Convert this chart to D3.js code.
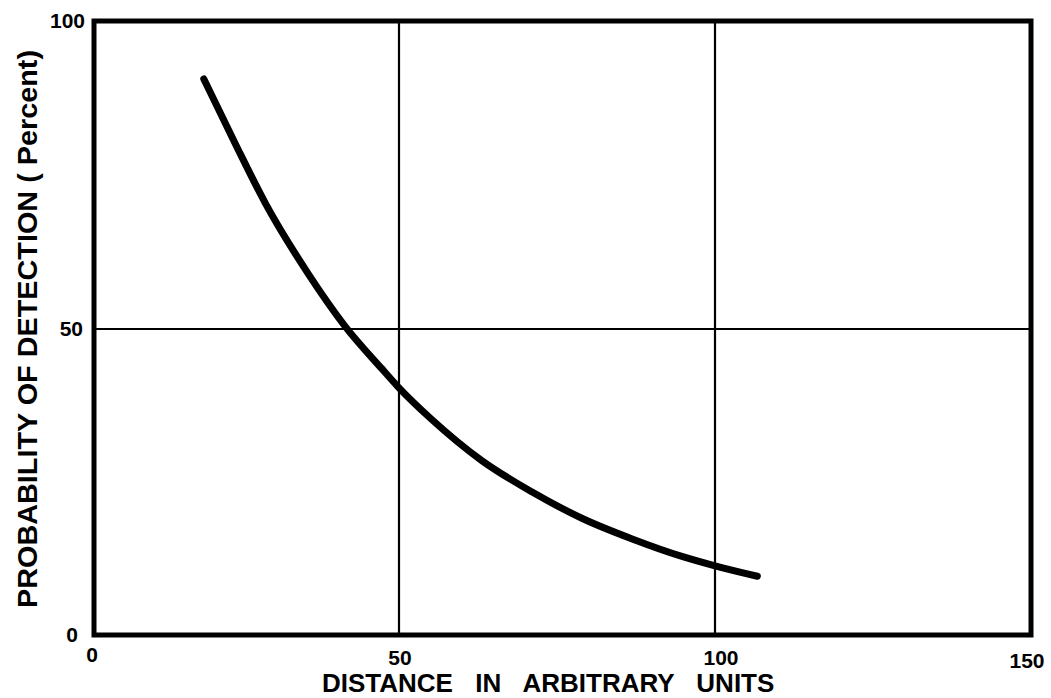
<!DOCTYPE html>
<html lang="en">
<head>
  <meta charset="UTF-8">
  <title>Probability of Detection vs Distance</title>
  <script src="https://d3js.org/d3.v7.min.js"></script>
  <style>
    body {
      margin: 0;
      background: #fff;
    }
    svg {
      display: block;
    }
    .tick-label {
      font-family: "Liberation Sans", Arial, sans-serif;
      font-weight: bold;
      font-size: 21px;
      fill: #000;
    }
    .axis-title {
      font-family: "Liberation Sans", Arial, sans-serif;
      font-weight: bold;
      font-size: 27px;
      fill: #000;
    }
    .x-title {
      font-size: 26px;
      word-spacing: 15px;
    }
    .grid {
      stroke: #000;
      stroke-width: 2.2px;
    }
    .frame {
      fill: none;
      stroke: #000;
      stroke-width: 5px;
    }
    .curve {
      fill: none;
      stroke: #000;
      stroke-width: 7px;
      stroke-linecap: round;
      stroke-linejoin: round;
    }
  </style>
</head>
<body>
  <svg width="1051" height="698"></svg>

  <script>
    // tick values
    const xTicks = [0, 50, 100, 150];
    const yTicks = [0, 50, 100];

    // curve (distance, percent)
    const distance = [18.0, 23.2, 28.1, 35.1, 41.2, 47.1, 49.8, 55.1, 63.1, 71.0, 79.1, 86.9, 94.9, 100.0, 106.7];
    const detection = [90.6, 80.0, 70.4, 59.0, 50.4, 43.6, 40.6, 35.3, 28.5, 23.4, 19.0, 15.7, 12.8, 11.3, 9.6];

    const xTitle = "DISTANCE IN ARBITRARY UNITS";
    const yTitle = "PROBABILITY OF DETECTION ( Percent)";

    const svg = d3.select("svg");

    // hand-drawn grid is slightly uneven, so use piecewise scales
    const x = d3.scaleLinear().domain(xTicks).range([94, 399, 715, 1031]);
    const y = d3.scaleLinear().domain(yTicks).range([635, 329, 21]);

    // grid lines (inner ones only)
    svg.append("g")
      .selectAll("line")
      .data(xTicks.slice(1, -1))
      .join("line")
      .attr("class", "grid")
      .attr("x1", d => x(d)).attr("x2", d => x(d))
      .attr("y1", y(0)).attr("y2", y(100));

    svg.append("g")
      .selectAll("line")
      .data(yTicks.slice(1, -1))
      .join("line")
      .attr("class", "grid")
      .attr("x1", x(0)).attr("x2", x(150))
      .attr("y1", d => y(d)).attr("y2", d => y(d));

    // frame
    svg.append("rect")
      .attr("class", "frame")
      .attr("x", x(0))
      .attr("y", y(100))
      .attr("width", x(150) - x(0))
      .attr("height", y(0) - y(100));

    // curve
    const pts = distance.map((d, i) => [d, detection[i]]);
    const line = d3.line()
      .x(d => x(d[0]))
      .y(d => y(d[1]))
      .curve(d3.curveMonotoneX);

    svg.append("path")
      .datum(pts)
      .attr("class", "curve")
      .attr("d", line);

    // x tick labels
    const xLabelDx = { 0: -2, 50: 1, 100: 6, 150: -4 };
    const xLabelY = { 0: 662, 50: 665, 100: 665, 150: 668 };
    svg.append("g")
      .selectAll("text")
      .data(xTicks)
      .join("text")
      .attr("class", "tick-label")
      .attr("x", d => x(d) + xLabelDx[d])
      .attr("y", d => xLabelY[d])
      .attr("text-anchor", "middle")
      .text(d => d);

    // y tick labels
    const yLabelRight = { 0: 78, 50: 83, 100: 85 };
    svg.append("g")
      .selectAll("text")
      .data(yTicks)
      .join("text")
      .attr("class", "tick-label")
      .attr("x", d => yLabelRight[d])
      .attr("y", d => y(d) + 7)
      .attr("text-anchor", "end")
      .text(d => d);

    // axis titles
    svg.append("text")
      .attr("class", "axis-title x-title")
      .attr("x", 322)
      .attr("y", 692)
      .text(xTitle);

    svg.append("text")
      .attr("class", "axis-title")
      .attr("transform", "translate(37,608) rotate(-90)")
      .attr("x", 0)
      .attr("y", 0)
      .attr("textLength", 558)
      .attr("lengthAdjust", "spacingAndGlyphs")
      .text(yTitle);
  </script>
</body>
</html>
